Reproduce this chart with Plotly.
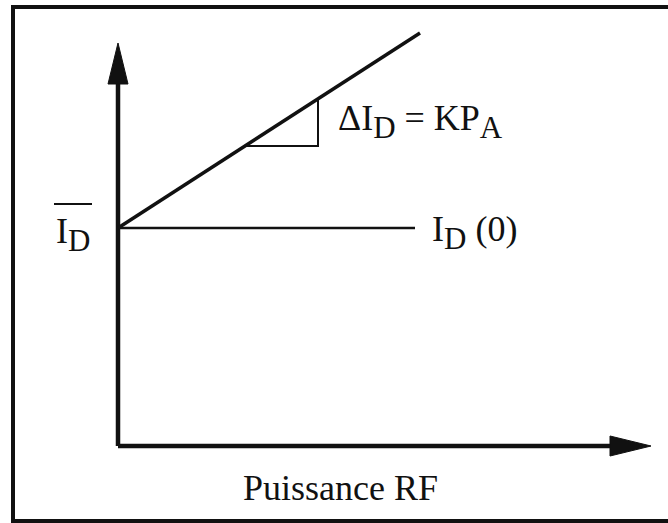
import plotly.graph_objects as go

# Schematic: mean drain current versus RF input power
# (abscissa = RF power, ordinate = drain current, arbitrary units)
P_axis_end = 533.0        # length of the power axis
I_axis_end = 403.0        # length of the current axis
I_D0 = 218.0              # quiescent drain current I_D(0)
K = 0.646                 # slope dI_D/dP_A
P_line_end = 302.0        # end of the I_D(P) line
P_flat_end = 297.0        # end of the I_D(0) reference line
P_tri = [127.0, 200.0]    # power span used to show the slope triangle


def sub(s):
    # subscript drawn slightly larger than the default 70 %
    return '<sub><span style="font-size:31px">' + s + "</span></sub>"


labels = {
    "slope": "ΔI" + sub("D") + " = KP" + sub("A"),
    "flat": "I" + sub("D") + " (0)",
    "mean": "I" + sub("D"),
    "xtitle": "Puissance RF",
}

W, H = 668, 523
x_range = [-118, W - 118]
y_range = [-(H - 446), 446]

ink = "#111111"
font = dict(family="Liberation Serif", size=36, color=ink)

fig = go.Figure()


def seg(xs, ys, width):
    fig.add_trace(go.Scatter(x=xs, y=ys, mode="lines",
                             line=dict(color=ink, width=width),
                             hoverinfo="skip", showlegend=False))


# axes shafts
seg([0, 0], [0, I_axis_end - 30], 4.5)
seg([0, P_axis_end - 30], [0, 0], 4.5)

# arrowheads (filled triangles)
head_len, head_half = 41.0, 10.0
fig.add_trace(go.Scatter(
    x=[-head_half, 0, head_half, -head_half],
    y=[I_axis_end - head_len, I_axis_end, I_axis_end - head_len, I_axis_end - head_len],
    fill="toself", fillcolor=ink, mode="lines", line=dict(color=ink, width=1),
    hoverinfo="skip", showlegend=False))
fig.add_trace(go.Scatter(
    x=[P_axis_end - head_len, P_axis_end, P_axis_end - head_len, P_axis_end - head_len],
    y=[-head_half, 0, head_half, -head_half],
    fill="toself", fillcolor=ink, mode="lines", line=dict(color=ink, width=1),
    hoverinfo="skip", showlegend=False))

# I_D(0) reference line
seg([0, P_flat_end], [I_D0, I_D0], 2.5)

# I_D(P) = I_D(0) + K*P
seg([0, P_line_end], [I_D0, I_D0 + K * P_line_end], 3.5)

# slope triangle
p1, p2 = P_tri
seg([p1, p2, p2], [I_D0 + K * p1, I_D0 + K * p1, I_D0 + K * p2], 2)

# labels
fig.add_annotation(x=p2 + 18, y=I_D0 + K * (p1 + p2) / 2 + 1, text=labels["slope"],
                   showarrow=False, xanchor="left", yanchor="middle", font=font)
fig.add_annotation(x=P_flat_end + 15, y=I_D0 - 4, text=labels["flat"],
                   showarrow=False, xanchor="left", yanchor="middle", font=font)

# mean-current label with a bar over the whole symbol
mean_right = -26.0
fig.add_annotation(x=mean_right, y=I_D0 - 6, text=labels["mean"],
                   showarrow=False, xanchor="right", yanchor="middle", font=font)
fig.add_shape(type="line", xref="x", yref="y",
              x0=mean_right - 38, x1=mean_right, y0=I_D0 + 24, y1=I_D0 + 24,
              line=dict(color=ink, width=2))

fig.add_annotation(x=P_axis_end / 2 - 44, y=-42, text=labels["xtitle"],
                   showarrow=False, xanchor="center", yanchor="middle", font=font)

# frame around the drawing
fig.add_shape(type="rect", xref="paper", yref="paper",
              x0=13 / W, x1=1.01, y0=1 - 521 / H, y1=1 - 7 / H,
              line=dict(color=ink, width=4))

fig.update_xaxes(range=x_range, visible=False, fixedrange=True)
fig.update_yaxes(range=y_range, visible=False, fixedrange=True)
fig.update_layout(width=W, height=H, margin=dict(l=0, r=0, t=0, b=0),
                  paper_bgcolor="white", plot_bgcolor="white", showlegend=False)

fig.write_html("out.html")
